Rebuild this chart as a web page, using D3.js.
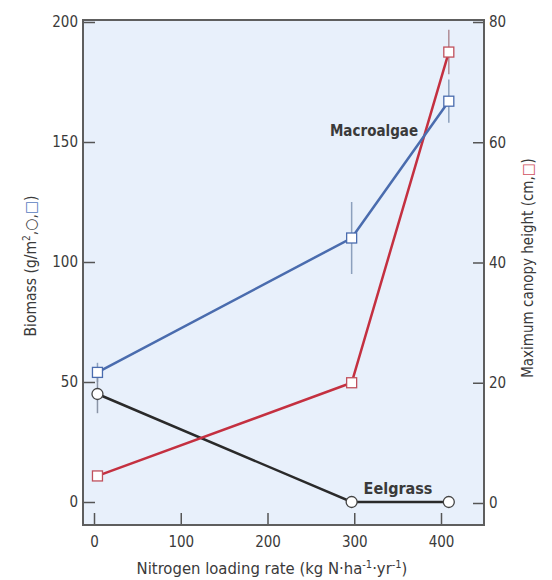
<!DOCTYPE html>
<html><head><meta charset="utf-8">
<script src="https://cdn.jsdelivr.net/npm/d3@7"></script>
<style>
body{margin:0;background:#fff;}
text{font-family:"Liberation Sans Narrow","DejaVu Sans Condensed","Roboto Condensed",sans-serif;font-stretch:condensed;fill:#3a3a3a;}
</style></head><body>
<svg id="c" width="552" height="580"></svg>
<script>
// Data
const nitrogen = [4, 297, 409];
const macroalgae = [54, 110, 167];
const macroalgaeErr = [4, 15, 9];
const eelgrass = [45, 0, 0];
const eelgrassErr = [8, 0, 0];
const canopy = [4.5, 20, 75];
const canopyErr = [0, 0, 3.7];
const xTicks = [0, 100, 200, 300, 400];
const yLeftTicks = [0, 50, 100, 150, 200];
const yRightTicks = [0, 20, 40, 60, 80];

const svg = d3.select("#c");
const L = 83, R = 484, T = 20, B = 525;
const x = d3.scaleLinear().domain([0, 400]).range([94, 441]);
const yL = d3.scaleLinear().domain([0, 200]).range([502, 22]);
const yR = d3.scaleLinear().domain([0, 80]).range([503, 22]);

svg.append("rect").attr("x", L).attr("y", T).attr("width", R - L).attr("height", B - T)
  .attr("fill", "#e8f0fb");

// axes
const fs = 15;
const gx = svg.append("g").attr("transform", `translate(0,${B})`)
  .call(d3.axisBottom(x).tickValues(xTicks).tickSize(-12).tickPadding(8).tickFormat(d3.format("d")));
const gl = svg.append("g").attr("transform", `translate(${L},0)`)
  .call(d3.axisLeft(yL).tickValues(yLeftTicks).tickSize(-12).tickPadding(5));
const gr = svg.append("g").attr("transform", `translate(${R},0)`)
  .call(d3.axisRight(yR).tickValues(yRightTicks).tickSize(-11).tickPadding(5));
[gx, gl, gr].forEach(g => {
  g.select(".domain").remove();
  g.selectAll(".tick line").attr("stroke", "#555").attr("stroke-width", 1.5);
  g.selectAll("text").style("font-size", fs + "px").attr("fill", "#3a3a3a");
});
gx.selectAll("text").attr("dy", "0.9em");

svg.append("rect").attr("x", L).attr("y", T).attr("width", R - L).attr("height", B - T)
  .attr("fill", "none").attr("stroke", "#5e5e5e").attr("stroke-width", 2);

// error bars
function errs(vals, err, ys, color) {
  svg.append("g").selectAll("line").data(nitrogen.map((n, i) => ({n, v: vals[i], e: err[i]})).filter(d => d.e > 0))
    .join("line")
    .attr("x1", d => x(d.n)).attr("x2", d => x(d.n))
    .attr("y1", d => ys(d.v - d.e)).attr("y2", d => ys(d.v + d.e))
    .attr("stroke", color).attr("stroke-width", 1.5);
}
errs(macroalgae, macroalgaeErr, yL, "#8ca0bd");
errs(eelgrass, eelgrassErr, yL, "#8a94a6");
errs(canopy, canopyErr, yR, "#b08c96");

const line = (ys) => d3.line().x((d, i) => x(nitrogen[i])).y(d => ys(d));
svg.append("path").datum(eelgrass).attr("d", line(yL)).attr("fill", "none").attr("stroke", "#2a2a2a").attr("stroke-width", 2.5);
svg.append("path").datum(canopy).attr("d", line(yR)).attr("fill", "none").attr("stroke", "#c43040").attr("stroke-width", 2.5);
svg.append("path").datum(macroalgae).attr("d", line(yL)).attr("fill", "none").attr("stroke", "#4a6cae").attr("stroke-width", 2.5);

// markers
const s = 10;
svg.append("g").selectAll("circle").data(eelgrass).join("circle")
  .attr("cx", (d, i) => x(nitrogen[i])).attr("cy", d => yL(d)).attr("r", 5.5)
  .attr("fill", "#fff").attr("stroke", "#444").attr("stroke-width", 1.3);
svg.append("g").selectAll("rect").data(canopy).join("rect")
  .attr("x", (d, i) => x(nitrogen[i]) - s / 2).attr("y", d => yR(d) - s / 2).attr("width", s).attr("height", s)
  .attr("fill", "#fff").attr("stroke", "#c0505c").attr("stroke-width", 1.3);
svg.append("g").selectAll("rect").data(macroalgae).join("rect")
  .attr("x", (d, i) => x(nitrogen[i]) - s / 2).attr("y", d => yL(d) - s / 2).attr("width", s).attr("height", s)
  .attr("fill", "#fff").attr("stroke", "#4a6cae").attr("stroke-width", 1.3);

// series labels
svg.append("text").attr("x", 374).attr("y", 136).attr("text-anchor", "middle")
  .style("font-size", "15px").style("font-weight", "bold").attr("fill", "#3a3a3a").text("Macroalgae");
svg.append("text").attr("x", 398).attr("y", 494).attr("text-anchor", "middle")
  .style("font-size", "16px").style("font-weight", "bold").attr("fill", "#3a3a3a").text("Eelgrass");

// x title
const xt = svg.append("text").attr("x", 272).attr("y", 574).attr("text-anchor", "middle").style("font-size", "16.5px");
xt.append("tspan").text("Nitrogen loading rate (kg N·ha");
xt.append("tspan").attr("dy", -6).style("font-size", "11px").text("-1");
xt.append("tspan").attr("dy", 6).text("·yr");
xt.append("tspan").attr("dy", -6).style("font-size", "11px").text("-1");
xt.append("tspan").attr("dy", 6).text(")");

// left title
const lt = svg.append("text").attr("transform", "translate(36,266) rotate(-90)").attr("text-anchor", "middle").style("font-size", "15.5px");
lt.append("tspan").text("Biomass (g/m");
lt.append("tspan").attr("dy", -6).style("font-size", "10px").text("2");
lt.append("tspan").attr("dy", 6).text(",○,");
lt.append("tspan").style("fill", "#5a7cc0").text("□");
lt.append("tspan").text(")");

// right title
const rt = svg.append("text").attr("transform", "translate(533,268) rotate(-90)").attr("text-anchor", "middle").style("font-size", "15px");
rt.append("tspan").text("Maximum canopy height (cm,");
rt.append("tspan").style("fill", "#d05060").text("□");
rt.append("tspan").text(")");
</script>
</body></html>
